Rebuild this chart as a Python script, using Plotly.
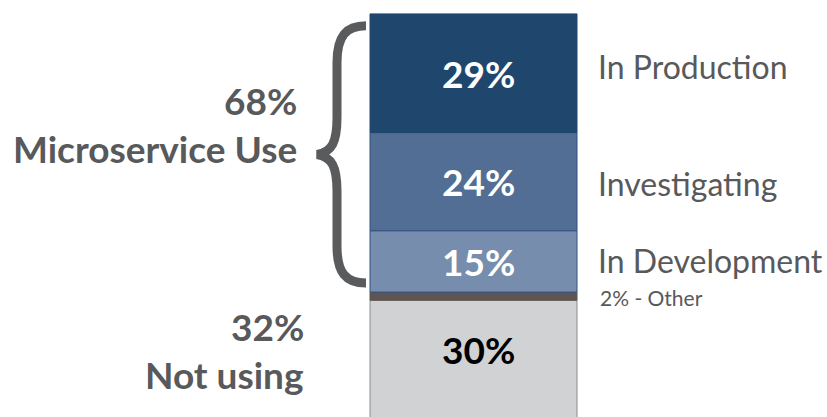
import plotly.graph_objects as go

# Data (bottom to top)
categories = ["Not using", "Other", "In Development", "Investigating", "In Production"]
values = [30, 2, 15, 24, 29]
bar_labels = ["30%", "", "15%", "24%", "29%"]
colors = ["#D1D2D4", "#5E5552", "#778DAE", "#536E94", "#1F476E"]
line_colors = ["#8C8C8C", "#5E5552", "#2F5383", "#2F5383", "#1F476E"]
text_colors = ["#000000", "#FFFFFF", "#FFFFFF", "#FFFFFF", "#FFFFFF"]
right_labels = ["", "2% - Other", "In Development", "Investigating", "In Production"]
group_labels = [("32%", "Not using"), ("68%", "Microservice Use")]

FONT = "Lato, 'Noto Sans', sans-serif"
GRAY = "#58595B"
XC, W = 473.5, 207

fig = go.Figure()
bases = []
acc = 0
for c, v, col, lc in zip(categories, values, colors, line_colors):
    bases.append(acc)
    fig.add_trace(go.Bar(x=[XC], y=[v], base=[acc], width=W, name=c,
                         marker=dict(color=col, line=dict(color=lc, width=1)),
                         hoverinfo="skip", showlegend=False))
    acc += v

ann = []
for i, (v, b) in enumerate(zip(values, bases)):
    mid = b + v / 2
    if bar_labels[i]:
        y = mid if i > 0 else b + v / 2 + 3.0
        ann.append(dict(x=XC + 5, y=y, text="<b>%s</b>" % bar_labels[i], showarrow=False,
                        font=dict(family=FONT, size=37, color=text_colors[i]),
                        xanchor="center", yanchor="middle"))
    if right_labels[i]:
        if categories[i] == "Other":
            ann.append(dict(x=598, y=b + 0.8, text=right_labels[i], showarrow=False,
                            font=dict(family=FONT, size=21, color=GRAY),
                            xanchor="left", yanchor="middle"))
        else:
            off = {"In Production": 1.6, "Investigating": -0.4, "In Development": 0.2}[categories[i]]
            ann.append(dict(x=596, y=mid + off, text=right_labels[i], showarrow=False,
                            font=dict(family=FONT, size=32, color=GRAY),
                            xanchor="left", yanchor="middle"))

# group labels on the left
not_using_mid = values[0] / 2
use_lo = values[0] + values[1]
use_mid = (use_lo + 100) / 2
for (pct, name), ymid, xr in zip(group_labels, [not_using_mid + 2.7, use_mid + 7], [306, 299]):
    ann.append(dict(x=xr, y=ymid + 5.8, text="<b>%s</b>" % pct, showarrow=False,
                    font=dict(family=FONT, size=37, color=GRAY), xanchor="right", yanchor="middle"))
    ann.append(dict(x=xr, y=ymid - 5.8, text="<b>%s</b>" % name, showarrow=False,
                    font=dict(family=FONT, size=37, color=GRAY), xanchor="right", yanchor="middle"))

# curly brace spanning the microservice-use segments
top = 100 - 2.9
bot = use_lo + 2.2
m = (top + bot) / 2
path = (f"M 366,{top} C 346,{top} 337,{top-2.5} 337,{top-9} "
        f"L 337,{m+9} C 337,{m+3} 332,{m+0.6} 317,{m} "
        f"C 332,{m-0.6} 337,{m-3} 337,{m-9} "
        f"L 337,{bot+9} C 337,{bot+2.5} 346,{bot} 366,{bot}")
fig.add_shape(type="path", path=path, xref="x", yref="y",
              line=dict(color="#5A5B5D", width=9))

fig.update_layout(
    width=827, height=417, margin=dict(l=0, r=0, t=0, b=0),
    paper_bgcolor="white", plot_bgcolor="white",
    barmode="overlay", annotations=ann,
    xaxis=dict(range=[0, 827], visible=False, fixedrange=True),
    yaxis=dict(range=[1.47, 103.4], visible=False, fixedrange=True),
)
fig.write_html("out.html", config={"displayModeBar": False},
               post_script="document.body.style.margin='0';document.body.style.overflow='hidden';")
